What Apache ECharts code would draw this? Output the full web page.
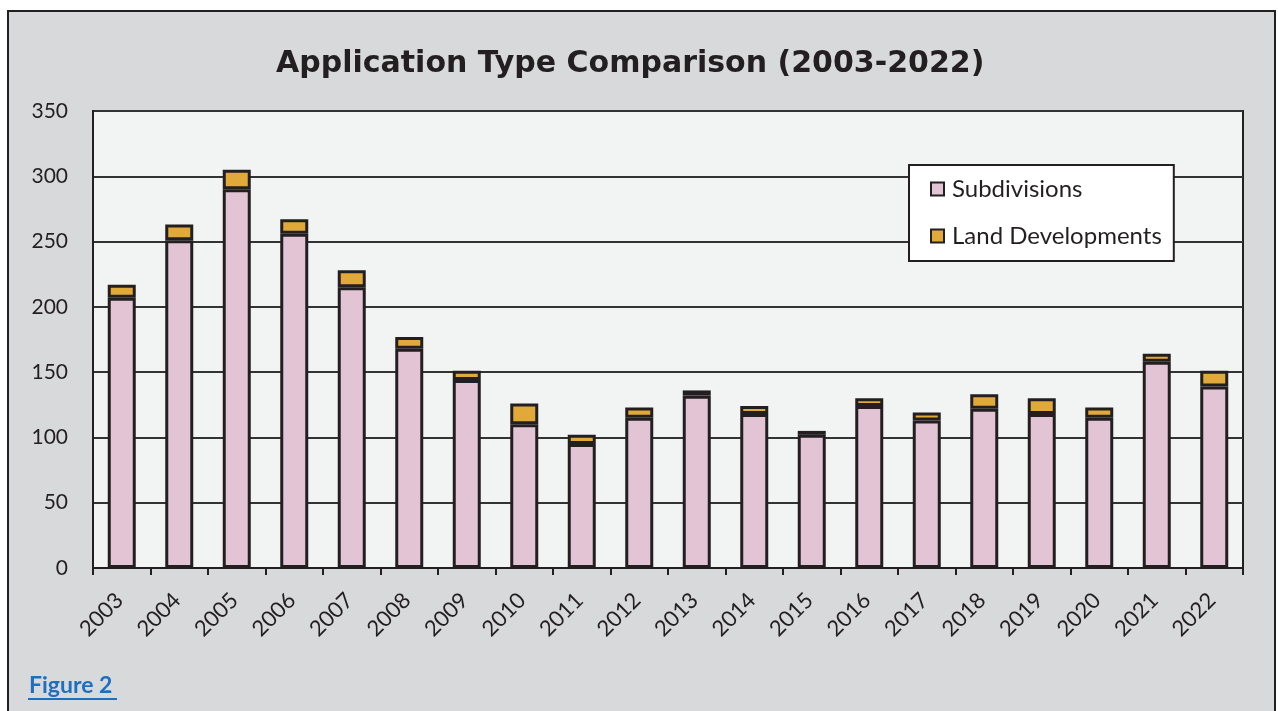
<!DOCTYPE html>
<html>
<head>
<meta charset="utf-8">
<title>Application Type Comparison</title>
<script src="https://cdn.jsdelivr.net/npm/echarts@6/dist/echarts.min.js"></script>
<style>
  html, body { margin: 0; padding: 0; background: #ffffff; }
  #chart { width: 1278px; height: 711px; }
</style>
</head>
<body>
<div id="chart"></div>
<script>
// data
var years = ['2003', '2004', '2005', '2006', '2007', '2008', '2009', '2010', '2011', '2012',
             '2013', '2014', '2015', '2016', '2017', '2018', '2019', '2020', '2021', '2022'];
var subdivisions = [207, 251, 290, 256, 215, 168, 144, 110, 95, 115,
                    132, 118, 102, 124, 113, 122, 118, 115, 158, 139];
var landDevelopments = [10, 12, 15, 11, 13, 9, 7, 16, 7, 8,
                        4, 6, 3, 6, 6, 11, 12, 8, 6, 12];
var yTicks = [0, 50, 100, 150, 200, 250, 300, 350];

var ink = '#231f20';
var labelFont = 'Lato, "Open Sans", sans-serif';

var chart = echarts.init(document.getElementById('chart'));

var option = {
  animation: false,
  backgroundColor: '#ffffff',
  graphic: [
    {
      type: 'rect', z: -10,
      shape: { x: 8, y: 11, width: 1267, height: 712 },
      style: { fill: '#d8d9db', stroke: ink, lineWidth: 2 }
    },
    {
      type: 'text', left: 29, top: 674,
      style: { text: 'Figure 2', fill: '#1f6fbf', font: 'bold 23px Lato, "Open Sans", sans-serif' }
    },
    {
      type: 'rect',
      shape: { x: 28, y: 698, width: 89, height: 2 },
      style: { fill: '#1f6fbf' }
    }
  ],
  title: {
    text: 'Application Type Comparison (2003-2022)',
    left: 271,
    top: 44,
    textStyle: { fontFamily: '"DejaVu Sans", sans-serif', fontWeight: 'bold', fontSize: 30, color: ink }
  },
  legend: {
    orient: 'vertical',
    left: 909,
    top: 165,
    padding: [12, 12, 13, 21],
    itemGap: 23,
    itemWidth: 13,
    itemHeight: 13,
    icon: 'rect',
    backgroundColor: '#ffffff',
    borderColor: ink,
    borderWidth: 2,
    textStyle: { fontFamily: labelFont, fontSize: 24, color: ink, padding: [0, 0, 0, 3] },
    data: ['Subdivisions', 'Land Developments']
  },
  grid: {
    left: 93, top: 111, width: 1150, height: 457,
    show: true,
    backgroundColor: '#f2f4f3',
    borderColor: ink,
    borderWidth: 2
  },
  xAxis: {
    type: 'category',
    data: years,
    axisLine: { lineStyle: { color: ink, width: 2 } },
    axisTick: { show: true, length: 7, lineStyle: { color: ink, width: 2 } },
    axisLabel: {
      rotate: 45, verticalAlign: 'top', align: 'right', padding: [0, 14, 0, 0],
      fontFamily: labelFont, fontSize: 22, color: ink, margin: 11
    }
  },
  yAxis: {
    type: 'value',
    min: yTicks[0],
    max: yTicks[yTicks.length - 1],
    interval: 50,
    axisLine: { show: true, lineStyle: { color: ink, width: 2 } },
    axisTick: { show: false },
    axisLabel: { fontFamily: labelFont, fontSize: 21, color: ink, margin: 25 },
    splitLine: { lineStyle: { color: '#333333', width: 2 } }
  },
  series: [
    {
      name: 'Subdivisions',
      type: 'bar',
      stack: 'apps',
      barWidth: 28,
      data: subdivisions,
      itemStyle: { color: '#e2c4d4', borderColor: ink, borderWidth: 3 }
    },
    {
      name: 'Land Developments',
      type: 'bar',
      stack: 'apps',
      barWidth: 28,
      data: landDevelopments,
      itemStyle: { color: '#e0a93a', borderColor: ink, borderWidth: 3 }
    }
  ]
};

chart.setOption(option);
</script>
</body>
</html>
